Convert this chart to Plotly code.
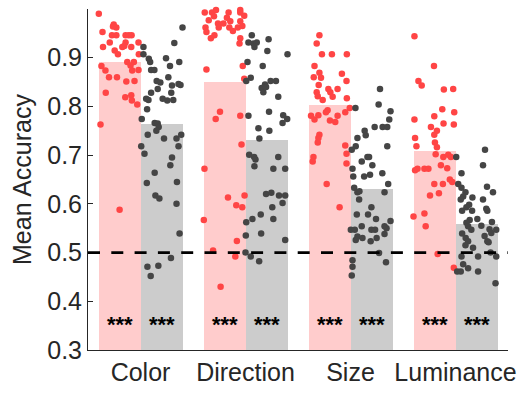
import plotly.graph_objects as go

# Task categories along the x axis
categories = ["Color", "Direction", "Size", "Luminance"]

# Mean accuracy per category (bar heights)
mean_a = [0.892, 0.850, 0.802, 0.709]
mean_b = [0.763, 0.732, 0.631, 0.559]

# Per-subject accuracies; *_jx is the horizontal jitter (category units, from the category centre)
color_a_jx = [-0.397, -0.362, -0.255, -0.262, -0.230, -0.272, -0.230, -0.142, -0.111, -0.085,
              -0.293, -0.357, -0.173, -0.142, -0.154, -0.088, -0.019, -0.246, -0.215, -0.016,
              -0.126, -0.063, -0.372, -0.095, -0.079, -0.334, -0.019, -0.300, -0.224, -0.135,
              -0.057, -0.331, -0.145, -0.088, -0.082, -0.031, -0.381, -0.199]
color_a_y = [0.990, 0.953, 0.968, 0.964, 0.962, 0.946, 0.946, 0.946, 0.946, 0.946,
             0.931, 0.922, 0.922, 0.931, 0.924, 0.922, 0.931, 0.915, 0.907, 0.907,
             0.891, 0.891, 0.883, 0.884, 0.874, 0.874, 0.875, 0.860, 0.860, 0.851,
             0.852, 0.828, 0.819, 0.823, 0.812, 0.804, 0.763, 0.588]

color_b_jx = [0.400, 0.322, 0.369, 0.028, 0.028, 0.079, 0.092, 0.243, 0.281, 0.101,
              0.132, 0.265, 0.154, 0.189, 0.362, 0.381, 0.300, 0.164, 0.293, 0.101,
              0.054, 0.076, 0.211, 0.255, 0.312, 0.063, 0.012, 0.135, 0.164, 0.173,
              0.151, 0.069, 0.224, 0.343, 0.388, 0.362, 0.007, 0.038, 0.300, 0.284,
              0.135, 0.060, 0.347, 0.142, 0.180, 0.343, 0.372, 0.290, 0.066, 0.170, 0.097]
color_b_y = [0.962, 0.930, 0.891, 0.922, 0.907, 0.898, 0.891, 0.899, 0.883, 0.875,
             0.875, 0.860, 0.852, 0.849, 0.846, 0.844, 0.843, 0.836, 0.828, 0.828,
             0.816, 0.813, 0.816, 0.812, 0.813, 0.794, 0.774, 0.766, 0.765, 0.758,
             0.750, 0.742, 0.734, 0.734, 0.742, 0.718, 0.718, 0.703, 0.695, 0.679,
             0.664, 0.643, 0.645, 0.617, 0.611, 0.600, 0.539, 0.489, 0.471, 0.473, 0.452]

direction_a_jx = [-0.388, -0.319, -0.281, -0.350, -0.381, -0.372, -0.262, -0.255, -0.296, -0.161,
                  -0.177, -0.145, -0.154, -0.050, -0.050, -0.012, -0.050, -0.073, -0.050, -0.057,
                  -0.372, -0.026, -0.012, -0.243, -0.284, -0.050, -0.038, -0.391, -0.167, -0.009,
                  -0.088, -0.031, -0.397, -0.082, -0.309, -0.097, -0.237, -0.300, -0.210, -0.120,
                  -0.030, -0.330]
direction_a_y = [0.993, 0.993, 0.998, 0.977, 0.962, 0.953, 0.970, 0.962, 0.946, 0.993,
                 0.982, 0.975, 0.962, 0.998, 0.993, 0.986, 0.975, 0.962, 0.940, 0.929,
                 0.876, 0.883, 0.857, 0.789, 0.774, 0.781, 0.722, 0.672, 0.613, 0.617,
                 0.597, 0.593, 0.567, 0.524, 0.504, 0.492, 0.430, 0.985, 0.970, 0.955,
                 0.965, 0.940]

direction_b_jx = [0.060, 0.220, 0.028, 0.076, 0.107, 0.085, 0.208, 0.400, 0.019, 0.164,
                  0.050, 0.007, 0.239, 0.290, 0.186, 0.154, 0.170, 0.196, 0.312, 0.224,
                  0.028, 0.359, 0.397, 0.353, 0.123, 0.227, 0.132, 0.035, 0.082, 0.095,
                  0.085, 0.312, 0.265, 0.378, 0.196, 0.246, 0.319, 0.378, 0.353, 0.255,
                  0.007, 0.066, 0.145, 0.265, 0.003, 0.149, 0.378, 0.000, 0.050, 0.130]
direction_b_y = [0.946, 0.938, 0.931, 0.929, 0.931, 0.922, 0.914, 0.907, 0.891, 0.883,
                 0.859, 0.852, 0.852, 0.852, 0.845, 0.838, 0.829, 0.840, 0.820, 0.789,
                 0.781, 0.782, 0.774, 0.766, 0.755, 0.750, 0.734, 0.701, 0.696, 0.691,
                 0.677, 0.696, 0.672, 0.672, 0.620, 0.623, 0.617, 0.617, 0.602, 0.593,
                 0.562, 0.569, 0.578, 0.569, 0.535, 0.539, 0.526, 0.500, 0.492, 0.482]

size_a_jx = [-0.296, -0.322, -0.272, -0.177, -0.035, -0.343, -0.296, -0.350, -0.281, -0.303,
             -0.082, -0.038, -0.322, -0.312, -0.265, -0.211, -0.192, -0.170, -0.123, -0.035,
             -0.007, -0.218, -0.234, -0.376, -0.343, -0.306, -0.196, -0.145, -0.123, -0.050,
             -0.296, -0.306, -0.312, -0.050, -0.038, -0.038, -0.353, -0.360, -0.227, -0.104]
size_a_y = [0.946, 0.929, 0.907, 0.907, 0.907, 0.883, 0.869, 0.860, 0.859, 0.844,
            0.867, 0.852, 0.829, 0.821, 0.813, 0.836, 0.829, 0.820, 0.836, 0.817,
            0.797, 0.792, 0.788, 0.781, 0.773, 0.782, 0.771, 0.768, 0.781, 0.788,
            0.742, 0.735, 0.726, 0.720, 0.703, 0.683, 0.696, 0.687, 0.641, 0.593]

size_b_jx = [0.281, 0.268, 0.047, 0.381, 0.369, 0.230, 0.306, 0.350, 0.135, 0.145,
             0.066, 0.050, 0.012, 0.350, 0.161, 0.177, 0.107, 0.208, 0.019, 0.303,
             0.186, 0.130, 0.026, 0.359, 0.035, 0.066, 0.085, 0.082, 0.324, 0.199,
             0.060, 0.167, 0.243, 0.381, 0.324, 0.343, 0.107, 0.199, 0.234, 0.003,
             0.041, 0.324, 0.249, 0.192, 0.066, 0.050, 0.114, 0.272, 0.338, 0.019,
             0.019, 0.012]
size_b_y = [0.836, 0.804, 0.797, 0.790, 0.773, 0.758, 0.758, 0.758, 0.750, 0.741,
            0.735, 0.718, 0.711, 0.718, 0.696, 0.696, 0.687, 0.679, 0.672, 0.663,
            0.660, 0.656, 0.656, 0.641, 0.633, 0.624, 0.626, 0.609, 0.624, 0.593,
            0.578, 0.578, 0.569, 0.565, 0.554, 0.550, 0.554, 0.547, 0.547, 0.547,
            0.547, 0.538, 0.530, 0.523, 0.533, 0.526, 0.530, 0.499, 0.480, 0.484,
            0.471, 0.453]

luminance_a_jx = [-0.391, -0.205, -0.353, -0.322, -0.111, -0.022, -0.126, -0.012, -0.202, -0.391,
                  -0.114, -0.016, -0.234, -0.177, -0.202, -0.385, -0.372, -0.196, -0.177, -0.189,
                  -0.116, -0.069, -0.044, -0.139, -0.079, -0.385, -0.362, -0.296, -0.258, -0.054,
                  -0.031, -0.202, -0.120, -0.158, -0.243, -0.296, -0.400, -0.284, -0.170, -0.016]
luminance_a_y = [0.944, 0.883, 0.852, 0.843, 0.835, 0.836, 0.794, 0.788, 0.780, 0.773,
                 0.765, 0.763, 0.758, 0.750, 0.742, 0.735, 0.718, 0.726, 0.716, 0.702,
                 0.696, 0.701, 0.696, 0.679, 0.673, 0.669, 0.672, 0.672, 0.672, 0.650,
                 0.645, 0.641, 0.641, 0.622, 0.617, 0.580, 0.574, 0.554, 0.497, 0.469]

luminance_b_jx = [0.281, 0.262, 0.007, 0.057, 0.026, 0.057, 0.095, 0.073, 0.050, 0.300,
                  0.357, 0.161, 0.130, 0.104, 0.262, 0.293, 0.303, 0.063, 0.158, 0.135,
                  0.104, 0.120, 0.151, 0.208, 0.347, 0.388, 0.324, 0.341, 0.246, 0.277,
                  0.303, 0.063, 0.097, 0.120, 0.095, 0.167, 0.315, 0.334, 0.388, 0.057,
                  0.215, 0.073, 0.120, 0.016, 0.050, 0.215, 0.381]
luminance_b_y = [0.711, 0.679, 0.696, 0.663, 0.641, 0.633, 0.624, 0.615, 0.609, 0.635,
                 0.624, 0.613, 0.598, 0.593, 0.609, 0.590, 0.586, 0.586, 0.586, 0.567,
                 0.561, 0.554, 0.547, 0.569, 0.563, 0.547, 0.548, 0.540, 0.555, 0.534,
                 0.523, 0.539, 0.530, 0.523, 0.515, 0.510, 0.521, 0.500, 0.492, 0.492,
                 0.492, 0.476, 0.468, 0.461, 0.461, 0.461, 0.437]

# Significance labels shown inside each bar
sig_a = ["***", "***", "***", "***"]
sig_b = ["***", "***", "***", "***"]

chance_level = 0.5

BAR_A = "#FFCCCC"
BAR_B = "#CCCCCC"
DOT_A = "#FF4545"
DOT_B = "#454545"
INK = "#262626"
FONT = "Liberation Sans, Arial, Helvetica, sans-serif"

pos = list(range(1, len(categories) + 1))
half = 0.2
width = 0.4

fig = go.Figure()

fig.add_trace(go.Bar(x=[p - half for p in pos], y=mean_a, width=width,
                     marker=dict(color=BAR_A, line=dict(width=0)), showlegend=False))
fig.add_trace(go.Bar(x=[p + half for p in pos], y=mean_b, width=width,
                     marker=dict(color=BAR_B, line=dict(width=0)), showlegend=False))

groups = [
    (color_a_jx, color_a_y, color_b_jx, color_b_y),
    (direction_a_jx, direction_a_y, direction_b_jx, direction_b_y),
    (size_a_jx, size_a_y, size_b_jx, size_b_y),
    (luminance_a_jx, luminance_a_y, luminance_b_jx, luminance_b_y),
]

for p, (ajx, ay, bjx, by) in zip(pos, groups):
    fig.add_trace(go.Scatter(x=[p + j for j in ajx], y=ay, mode="markers",
                             marker=dict(color=DOT_A, size=6.5, line=dict(width=0)),
                             cliponaxis=False, showlegend=False, hoverinfo="y"))
    fig.add_trace(go.Scatter(x=[p + j for j in bjx], y=by, mode="markers",
                             marker=dict(color=DOT_B, size=6.5, line=dict(width=0)),
                             cliponaxis=False, showlegend=False, hoverinfo="y"))

# Chance-level reference line
fig.add_shape(type="line", xref="x", yref="y", x0=0.5, x1=4.5,
              y0=chance_level, y1=chance_level, layer="above",
              line=dict(color="black", width=2.7, dash="12px,11.3px"))

for p, sa, sb in zip(pos, sig_a, sig_b):
    for xx, txt in ((p - half, sa), (p + half, sb)):
        fig.add_annotation(x=xx, y=0.352, text=txt, showarrow=False,
                           xanchor="center", yanchor="middle",
                           font=dict(family=FONT, size=22, color="black", weight="bold"))

fig.update_layout(
    width=525, height=396,
    margin=dict(l=88, r=13, t=9, b=46),
    paper_bgcolor="white", plot_bgcolor="white",
    bargap=0, barmode="overlay",
    font=dict(family=FONT, size=25, color=INK),
)

fig.update_xaxes(
    range=[0.5, 4.5], tickvals=pos, ticktext=categories,
    showline=True, linecolor=INK, linewidth=1, ticks="", showgrid=False,
    zeroline=False, tickfont=dict(size=25, color=INK),
)
fig.update_yaxes(
    range=[0.3, 1.0], tickvals=[0.3, 0.4, 0.5, 0.6, 0.7, 0.8, 0.9],
    ticktext=["0.3", "0.4", "0.5", "0.6", "0.7", "0.8", "0.9"],
    showline=True, linecolor=INK, linewidth=1, ticks="inside", ticklen=5,
    tickcolor=INK, showgrid=False, zeroline=False,
    tickfont=dict(size=25, color=INK),
    title=dict(text="Mean Accuracy", font=dict(size=25, color=INK), standoff=8),
)

fig.write_html("out.html")
